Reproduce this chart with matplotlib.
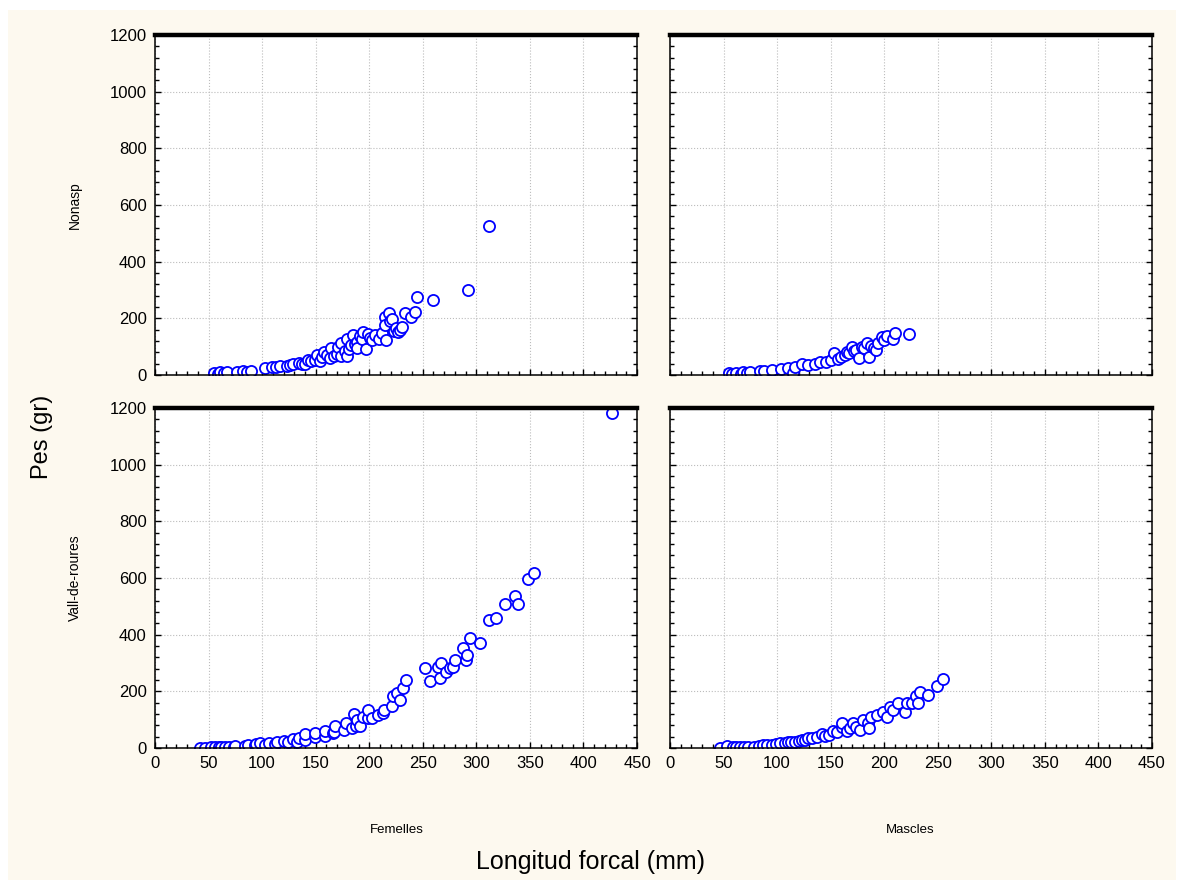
import matplotlib
matplotlib.use("Agg")
import matplotlib.pyplot as plt
from matplotlib.patches import Rectangle
from matplotlib.ticker import MultipleLocator

plt.rcParams['font.family'] = ['Liberation Sans', 'DejaVu Sans']

# Nonasp - Femelles (longitud forcal mm, pes gr)
nf_x = [55, 59, 61, 64, 67, 77, 82, 86, 90, 103, 109, 113, 117, 123, 126, 129, 134, 137, 140, 143,
        146, 149, 151, 154, 156, 158, 161, 163, 164, 167, 170, 171, 174, 174, 177, 179, 179, 181, 183, 185,
        187, 189, 189, 191, 193, 194, 197, 199, 201, 203, 205, 209, 212, 215, 215, 216, 218, 219, 221, 223,
        225, 227, 229, 231, 233, 239, 243, 245, 260, 292, 312]
nf_y = [6, 4, 9, 8, 9, 11, 15, 12, 14, 26, 27, 30, 32, 32, 36, 40, 43, 38, 38, 52,
        48, 52, 72, 50, 62, 81, 70, 59, 95, 66, 74, 100, 68, 112, 85, 67, 126, 92, 105, 140,
        110, 115, 94, 138, 128, 153, 93, 145, 130, 124, 140, 126, 149, 206, 176, 124, 218, 190, 196, 157,
        165, 153, 160, 171, 219, 206, 223, 275, 265, 300, 525]

# Nonasp - Mascles
nm_x = [55, 58, 62, 66, 68, 72, 74.5, 84, 88, 95, 104, 110.5, 115, 117, 123, 129, 135, 140, 145.5, 150.5,
        153, 157, 160, 163, 165, 167, 170, 172, 174, 176, 179, 181, 184, 186, 188, 190, 192, 194.5, 197.5, 200,
        203, 208, 210, 223]
nm_y = [6, 4, 8, 5, 9, 7, 12, 14, 15, 18, 21, 24, 8, 29, 38, 35, 39, 47, 47, 53,
        76, 55, 65, 70, 82, 76, 100, 85, 90, 59, 100, 95, 112, 65, 104, 94, 88, 114, 133, 125,
        138, 126, 147, 146]

# Vall-de-roures - Femelles
vf_x = [42, 47, 52, 56, 60, 62, 65, 69, 74, 75, 84, 87, 93, 94, 98, 103, 106, 112, 114, 120,
        124, 129, 133, 134, 140, 140, 149, 149, 159, 159, 166, 167, 168, 176, 178, 184, 186, 188, 189, 191,
        194, 199, 199, 203, 208, 213, 214, 221, 222, 226, 229, 232, 234, 252, 257, 264, 266, 267, 272, 275,
        278, 280, 288, 290, 291, 294, 303, 312, 318, 327, 336, 339, 348, 354, 427]
vf_y = [0, 0, 2, 5, 3, 5, 4, 5, 5, 7, 7, 11, 11, 14, 16, 11, 16, 14, 22, 26,
        21, 32, 21, 34, 28, 49, 39, 52, 42, 59, 53, 58, 79, 64, 87, 71, 120, 79, 99, 78,
        110, 106, 134, 106, 116, 122, 134, 148, 184, 194, 169, 212, 240, 282, 236, 286, 247, 300, 268, 282,
        286, 310, 353, 310, 328, 388, 371, 452, 458, 508, 536, 507, 596, 619, 1183]

# Vall-de-roures - Mascles
vm_x = [46.7, 53, 58.5, 62, 65, 69, 73, 78.4, 83, 87, 91, 95, 99, 103, 107, 110.5, 113, 116.7, 120, 123,
        126, 129, 133, 137, 141.6, 145, 148, 152.5, 156, 160.5, 161, 165, 168, 170.5, 174, 177, 180.5, 185, 186, 188,
        193.5, 198.5, 203, 205.5, 208.5, 212.6, 219, 221, 226, 230, 232, 233.4, 240.6, 249.6, 254.6]
vm_y = [0, 7, 2, 4, 2, 5, 2, 2, 6, 11, 9, 11, 14, 16, 18, 22, 20, 22, 25, 28,
        30, 34, 37, 40, 49, 44, 46, 60, 55, 75, 89, 61, 72, 87, 75, 64, 99, 87, 69, 111,
        116, 128, 111, 146, 134, 158, 128, 158, 158, 185, 158, 199, 187, 220, 242]

rows = ['Nonasp', 'Vall-de-roures']
cols = ['Femelles', 'Mascles']
panels = [[(nf_x, nf_y), (nm_x, nm_y)],
          [(vf_x, vf_y), (vm_x, vm_y)]]

CREAM = '#fdf9ef'


def setup_axis(ax, show_x, show_y):
    ax.set_xlim(0, 450)
    ax.set_ylim(0, 1200)
    ax.xaxis.set_major_locator(MultipleLocator(50))
    ax.xaxis.set_minor_locator(MultipleLocator(10))
    ax.yaxis.set_major_locator(MultipleLocator(200))
    ax.yaxis.set_minor_locator(MultipleLocator(40))
    ax.grid(True, which='major', color='#bcbcbc', linestyle=':', linewidth=0.8)
    ax.set_axisbelow(True)
    ax.tick_params(which='both', direction='in', top=False, right=True, labelsize=12, pad=6)
    ax.tick_params(which='major', length=4, width=1)
    ax.tick_params(which='minor', length=3, width=1)
    for s in ['left', 'right', 'bottom']:
        ax.spines[s].set_linewidth(1.1)
    ax.spines['top'].set_linewidth(3.2)
    if not show_x:
        ax.tick_params(labelbottom=False)
    if not show_y:
        ax.tick_params(labelleft=False)


fig = plt.figure(figsize=(11.84, 8.89), dpi=100, facecolor='white')
fig.add_artist(Rectangle((8 / 1184, 1 - 880 / 889), 1168 / 1184, 870 / 889,
                         transform=fig.transFigure, facecolor=CREAM, edgecolor='none', zorder=-1))

lefts = [155 / 1184, 670 / 1184]
bottoms = [1 - 375 / 889, 1 - 748 / 889]
w = 482 / 1184
h = 340 / 889

for i in range(2):
    for j in range(2):
        ax = fig.add_axes([lefts[j], bottoms[i], w, h])
        ax.set_facecolor('white')
        px, py = panels[i][j]
        ax.plot(px, py, 'o', ls='none', color='#0000ff', mfc='white', ms=8, mew=1.3)
        setup_axis(ax, show_x=(i == 1), show_y=(j == 0))

# row and column labels
fig.text(75 / 1184, 1 - 205 / 889, rows[0], rotation=90, ha='center', va='center', fontsize=10)
fig.text(75 / 1184, 1 - 578 / 889, rows[1], rotation=90, ha='center', va='center', fontsize=10)
fig.text(397 / 1184, 1 - 830 / 889, cols[0], ha='center', va='center', fontsize=9.5)
fig.text(910 / 1184, 1 - 830 / 889, cols[1], ha='center', va='center', fontsize=9.5)
fig.text(42 / 1184, 1 - 437 / 889, 'Pes (gr)', rotation=90, ha='center', va='center', fontsize=17)
fig.text(591 / 1184, 1 - 862 / 889, 'Longitud forcal (mm)', ha='center', va='center', fontsize=18)

fig.savefig('out.png', dpi=100)
